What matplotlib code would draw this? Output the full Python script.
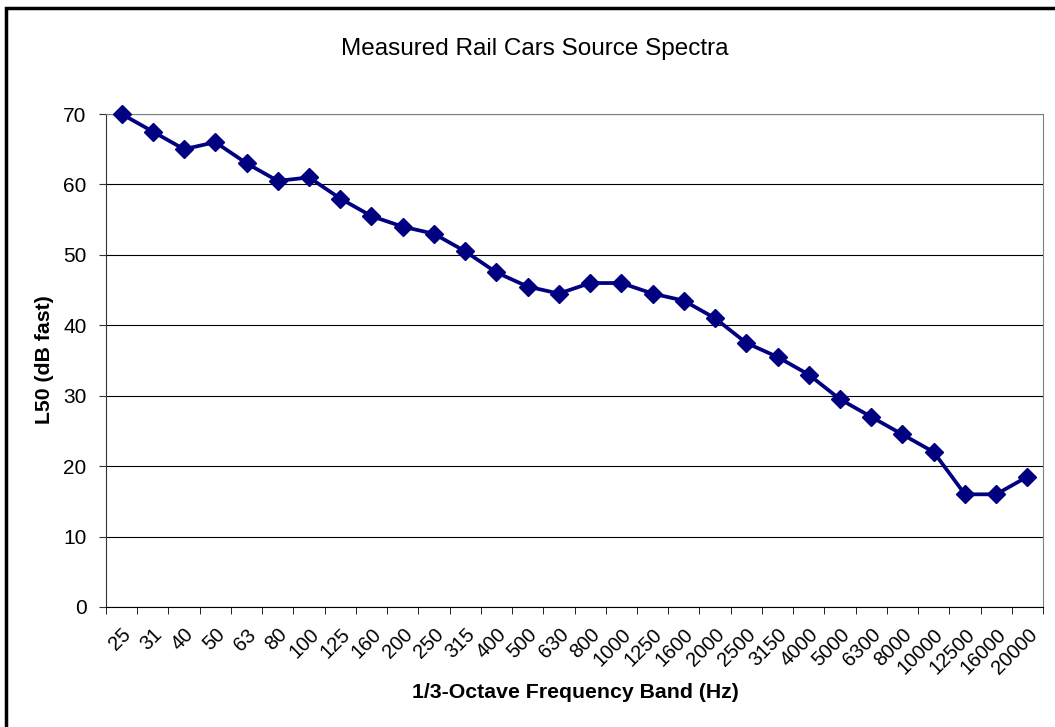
import matplotlib.pyplot as plt
from matplotlib.patches import Rectangle

plt.rcParams['font.family'] = ['Liberation Sans', 'DejaVu Sans']

# bandes de tiers d'octave (Hz) et niveaux L50
bandes = ["25", "31", "40", "50", "63", "80", "100", "125", "160", "200",
          "250", "315", "400", "500", "630", "800", "1000", "1250", "1600", "2000",
          "2500", "3150", "4000", "5000", "6300", "8000", "10000", "12500", "16000", "20000"]
l50 = [70, 67.5, 65, 66, 63, 60.5, 61, 58, 55.5, 54,
       53, 50.5, 47.5, 45.5, 44.5, 46, 46, 44.5, 43.5, 41,
       37.5, 35.5, 33, 29.5, 27, 24.5, 22, 16, 16, 18.5]
yticks = [0, 10, 20, 30, 40, 50, 60, 70]

fig = plt.figure(figsize=(10.55, 7.27), dpi=100)
# cadre noir autour du graphique (coupe a droite et en bas)
fig.patches.append(Rectangle((6/1055, -0.1), 1.2, (727-7.5)/727 + 0.1, transform=fig.transFigure,
                             fill=False, edgecolor='black', linewidth=2.5))

ax = fig.add_axes([106/1055, 1 - 607/727, (1043-106)/1055, (607-114)/727])
x = list(range(len(bandes)))
ax.plot(x, l50, color='#000080', linewidth=2.7, marker='D', markersize=9, zorder=3, clip_on=False)

ax.set_xlim(-0.5, len(bandes) - 0.5)
ax.set_ylim(0, 70)
ax.set_yticks(yticks)
ax.set_yticklabels([str(v) for v in yticks], fontsize=15)
ax.grid(axis='y', color='black', linewidth=0.8)
ax.set_axisbelow(True)

ax.set_xticks(x)
ax.set_xticklabels(bandes, rotation=45, ha='right', va='top', rotation_mode='anchor', fontsize=14.5)
ax.set_xticks([i - 0.5 for i in range(len(bandes) + 1)], minor=True)
ax.tick_params(axis='x', which='major', length=0, pad=13)
ax.tick_params(axis='x', which='minor', length=5, direction='out', color='black')
ax.tick_params(axis='y', length=5, direction='out', color='#333333', pad=9)

ax.spines['left'].set_color('#333333')
ax.spines['bottom'].set_color('black')
ax.spines['top'].set_color('#808080')
ax.spines['right'].set_color('#808080')

fig.text(535/1055, 1 - 49/727, "Measured Rail Cars Source Spectra", ha='center', va='center', fontsize=17.5)
fig.text(575/1055, 1 - 692/727, "1/3-Octave Frequency Band (Hz)", ha='center', va='center',
         fontsize=15.3, fontweight='bold')
fig.text(45/1055, 1 - 360/727, "L50 (dB fast)", ha='center', va='center', rotation=90,
         fontsize=15.3, fontweight='bold')

fig.savefig("out.png", dpi=100)
